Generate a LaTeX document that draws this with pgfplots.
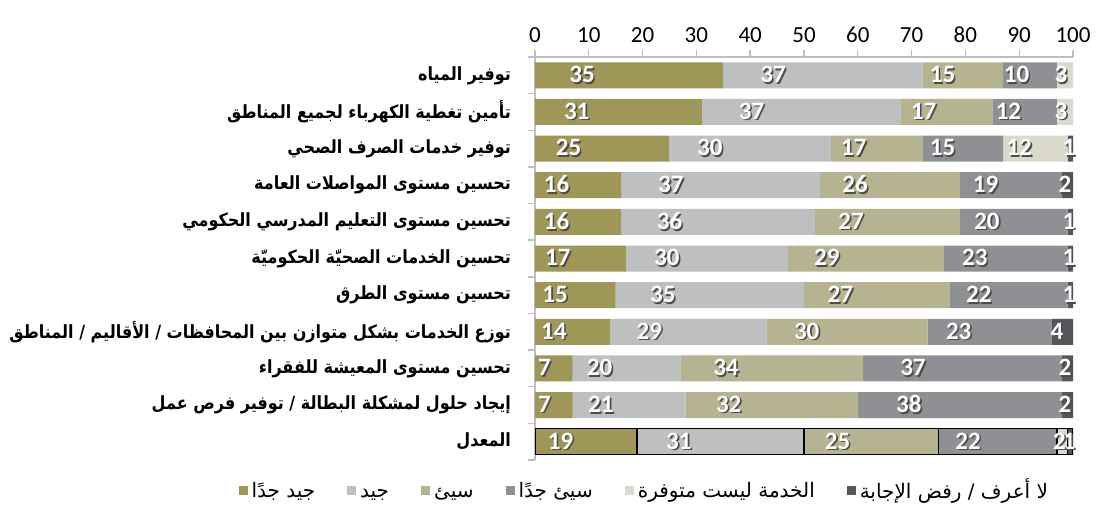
\documentclass[border=0pt]{standalone}
\usepackage{fontspec}
\setmainfont{Carlito}
\newfontfamily\arabicfont[Script=Arabic]{DejaVu Sans}
\newfontfamily\arabiclab[Script=Arabic, FakeStretch=0.88]{DejaVu Sans}
\usepackage{pgfplots}
\usepackage{pgfplotstable}
\pgfplotsset{compat=1.18}
\TeXXeTstate=1

\definecolor{c1}{HTML}{9E9757}
\definecolor{c2}{HTML}{BEBFC1}
\definecolor{c3}{HTML}{B6B391}
\definecolor{c4}{HTML}{8F9094}
\definecolor{c5}{HTML}{DAD9CC}
\definecolor{c6}{HTML}{555659}
\definecolor{axisgray}{HTML}{BFBFBF}

\newcommand{\LG}[1]{\rule[-3.5pt]{0pt}{12pt}\beginR #1\endR}

\pgfplotstableread{
y s1 s2 s3 s4 s5 s6
1 35 37 15 10 3 0
2 31 37 17 12 3 0
3 25 30 17 15 12 1
4 16 37 26 19 0 2
5 16 36 27 20 0 1
6 17 30 29 23 0 1
7 15 35 27 22 0 1
8 14 29 30 23 0 4
9 7 20 34 37 0 2
10 7 21 32 38 0 2
}\maindata

\pgfplotstableread{
y s1 s2 s3 s4 s5 s6
11 19 31 25 22 2 1
}\avgdata

\pgfplotsset{
  common/.style={
    at={(0,0)}, anchor=south west,
    scale only axis, width=269pt, height=201.5pt,
    xmin=0, xmax=100, ymin=0.5, ymax=11.5, y dir=reverse,
    xbar stacked, bar width=13pt,
    /pgf/number format/assume math mode=true,
    visualization depends on={rawx \as \rawx},
    nodes near coords={\ifdim\rawx pt>0.5pt\rlap{\kern0.8pt\raisebox{-0.8pt}{\color{black!70}\pgfmathprintnumber{\rawx}}}\pgfmathprintnumber{\rawx}\fi},
    every node near coord/.style={anchor=center, xshift={-\rawx*0.6725pt}, text=white, inner sep=0pt, font=\bfseries\fontsize{12.5}{12.5}\selectfont},
  },
}

\begin{document}
\begin{tikzpicture}
\useasboundingbox (-267.5pt,-22pt) rectangle (280.5pt,230pt);
\begin{axis}[
  common,
  axis x line*=top, axis y line*=left,
  axis line style={draw=axisgray, line width=0.7pt},
  tick align=outside,
  major tick length=3.5pt, minor tick length=3.5pt,
  xtick={0,10,...,100},
  x tick style={draw=axisgray, line width=0.7pt},
  xticklabel style={font=\fontsize{11.5}{12}\selectfont, text=black},
  ytick={1,...,11},
  minor ytick={0.5,1.5,...,11.5},
  major y tick style={draw=none},
  minor y tick style={draw=axisgray, line width=0.7pt},
  yticklabel style={font=\arabiclab\bfseries\fontsize{9.1}{11}\selectfont, text=black, xshift=-5pt},
  yticklabels={
    {\beginR توفير المياه\endR},
    {\beginR تأمين تغطية الكهرباء لجميع المناطق\endR},
    {\beginR توفير خدمات الصرف الصحي\endR},
    {\beginR تحسين مستوى المواصلات العامة\endR},
    {\beginR تحسين مستوى التعليم المدرسي الحكومي\endR},
    {\beginR تحسين الخدمات الصحيّة الحكوميّة\endR},
    {\beginR تحسين مستوى الطرق\endR},
    {\beginR توزع الخدمات بشكل متوازن بين المحافظات / الأقاليم / المناطق\endR},
    {\beginR تحسين مستوى المعيشة للفقراء\endR},
    {\beginR إيجاد حلول لمشكلة البطالة / توفير فرص عمل\endR},
    {\beginR المعدل\endR}
  },
  legend columns=6,
  legend style={at={(0.205,-0.075)}, anchor=center, draw=none, fill=none,
    font=\arabicfont\fontsize{10}{12}\selectfont,
    /tikz/every even column/.append style={column sep=14pt}},
  legend image code/.code={\fill[#1] (0pt,-2.3pt) rectangle (4.5pt,2.3pt);},
]
\addplot[fill=c1, draw=none] table[x=s1, y=y] {\maindata};
\addplot[fill=c2, draw=none] table[x=s2, y=y] {\maindata};
\addplot[fill=c3, draw=none] table[x=s3, y=y] {\maindata};
\addplot[fill=c4, draw=none] table[x=s4, y=y] {\maindata};
\addplot[fill=c5, draw=none] table[x=s5, y=y] {\maindata};
\addplot[fill=c6, draw=none] table[x=s6, y=y] {\maindata};
\legend{{\LG{جيد جدًا}},{\LG{جيد}},{\LG{سيئ}},{\LG{سيئ جدًا}},{\LG{الخدمة ليست متوفرة}},{\LG{لا أعرف / رفض الإجابة}}}
\end{axis}
\begin{axis}[common, hide axis]
\addplot[fill=c1, draw=black, line width=0.8pt] table[x=s1, y=y] {\avgdata};
\addplot[fill=c2, draw=black, line width=0.8pt] table[x=s2, y=y] {\avgdata};
\addplot[fill=c3, draw=black, line width=0.8pt] table[x=s3, y=y] {\avgdata};
\addplot[fill=c4, draw=black, line width=0.8pt] table[x=s4, y=y] {\avgdata};
\addplot[fill=c5, draw=black, line width=0.8pt] table[x=s5, y=y] {\avgdata};
\addplot[fill=c6, draw=black, line width=0.8pt] table[x=s6, y=y] {\avgdata};
\end{axis}
\end{tikzpicture}
\end{document}
